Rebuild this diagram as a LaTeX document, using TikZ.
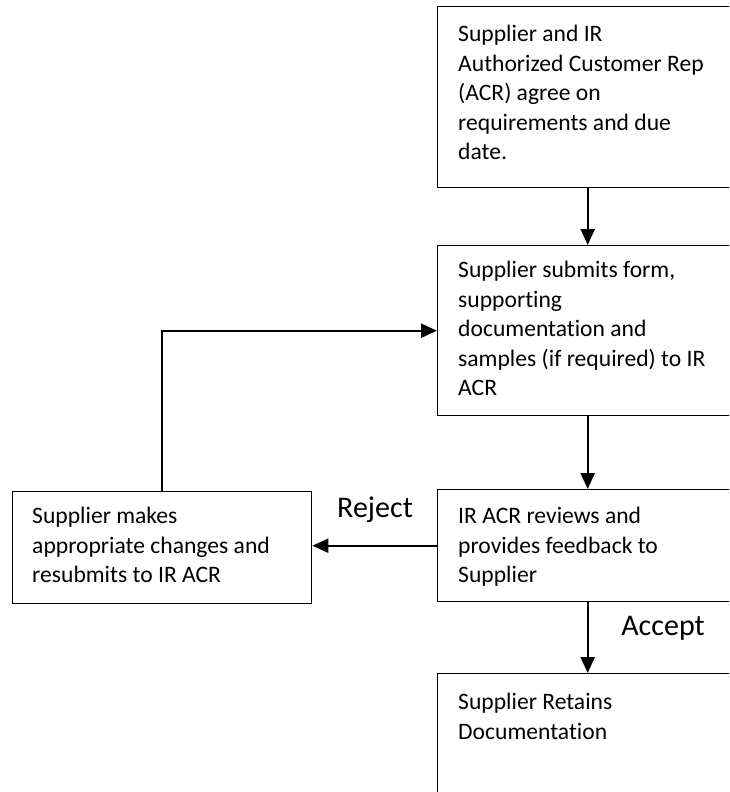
\documentclass[tikz,border=0pt]{standalone}
\usepackage{fontspec}
\setmainfont{Carlito}[Ligatures=NoCommon]
\usetikzlibrary{arrows.meta,calc}

\begin{document}
\begin{tikzpicture}[x=1pt,y=-1pt,
  box/.style={draw, line width=1.4pt, rectangle, inner sep=0pt, anchor=north west},
  txt/.style={anchor=north west, align=left, inner sep=0pt,
    font=\fontsize{23.6}{29.6}\selectfont, execute at begin node=\strut},
  lbl/.style={inner sep=0pt, font=\fontsize{30}{36}\selectfont},
  flow/.style={line width=2.2pt, -{Triangle[width=14pt,length=16pt]}}]
\useasboundingbox (0,0) rectangle (729,792);
\clip (0,0) rectangle (729,792);

% process boxes
\node[box, minimum width=300pt, minimum height=181pt] (agree)    at (437,6)   {};
\node[box, minimum width=300pt, minimum height=170pt] (submit)   at (437,245) {};
\node[box, minimum width=300pt, minimum height=112pt] (review)   at (437,489) {};
\node[box, minimum width=299pt, minimum height=112pt] (resubmit) at (12,491)  {};
\node[box, minimum width=300pt, minimum height=150pt] (retain)   at (437,673) {};

% box texts, set from the top left corner of each box
\node[txt] (agreetxt) at ($(agree.north west)+(21,19)$)
  {Supplier and IR\\Authorized Customer Rep\\(ACR) agree on\\requirements and due\\date.};
\node[txt] (submittxt) at ($(submit.north west)+(21,16)$)
  {Supplier submits form,\\supporting\\documentation and\\samples (if required) to IR\\ACR};
\node[txt] (reviewtxt) at ($(review.north west)+(21,18)$)
  {IR ACR reviews and\\provides feedback to\\Supplier};
\node[txt] (resubmittxt) at ($(resubmit.north west)+(20,16)$)
  {Supplier makes\\appropriate changes and\\resubmits to IR ACR};
\node[txt] (retaintxt) at ($(retain.north west)+(21,20)$)
  {Supplier Retains\\Documentation};

% connectors
\draw[flow] (agree.south) -- (submit.north);
\draw[flow] (submit.south) -- (review.north);
\draw[flow] (review.south) -- (retain.north);
\draw[flow] (review.west) -- (review.west -| resubmit.east);
\draw[flow] (resubmit.north) |- (submit.west);

% decision labels
\node[lbl] (reject) at (375,510) {Reject};
\node[lbl] (accept) at (663,628) {Accept};
\end{tikzpicture}
\end{document}
